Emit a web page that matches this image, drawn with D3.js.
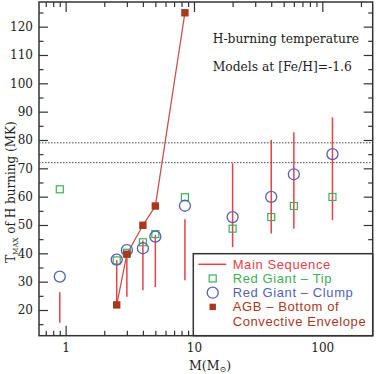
<!DOCTYPE html>
<html>
<head>
<meta charset="utf-8">
<script src="https://cdn.jsdelivr.net/npm/d3@7"></script>
<style>
	body { margin: 0; background: #fff; }
	svg { display: block; }
</style>
</head>
<body>
<svg id="svg_main" width="376" height="374"></svg>
<script>
// masses (M_sun) for each model
var masses = [0.9, 2.5, 3, 4, 5, 8.5, 20, 40, 60, 120];

// main sequence: range of T_max (low, high)
var msLow  = [15.5, 21.8, 24.7, 27, 28.1, 30.5, 42.2, 47, 48.7, 51.7];
var msHigh = [26.3, 37.6, 40, 44.5, 46.5, 52, 71.8, 80, 82.7, 88];

// red giant tip, red giant clump
var rgTip   = [62.6, 37.5, 40.2, 43.9, 46.8, 59.8, 48.7, 52.8, 56.7, 59.9];
var rgClump = [31.8, 37.8, 41.1, 41.8, 45.9, 56.8, 52.8, 59.9, 67.9, 75];

// AGB bottom of convective envelope (only intermediate masses)
var agbMass = [2.5, 3, 4, 5, 8.5];
var agbT    = [21.8, 39.7, 49.9, 56.7, 124.9];

var refLines = [79, 72];

var yTicks = [20, 30, 40, 50, 60, 70, 80, 90, 100, 110, 120];
var xTicks = [1, 10, 100];

var colMS = "#e8414b", colTip = "#3fae5a", colClump = "#5561b6", colAGB = "#a8391f";

var margin = { left: 39, top: 2, right: 3.3, bottom: 38.3 };
var svg = d3.select("#svg_main");
var width = 376 - margin.left - margin.right,
	height = 374 - margin.top - margin.bottom;

var g = svg.append("g")
	.attr("transform", `translate(${margin.left}, ${margin.top})`);

var x = d3.scaleLog().domain([0.62, 247]).range([0, width]);
var y = d3.scaleLinear().domain([10.93, 128.7]).range([height, 0]);

var minorX = [];
[0.1, 1, 10, 100].forEach(dec => {
	for (let k = 2; k <= 9; k++) {
		let v = k * dec;
		if (v >= 0.62 && v <= 247) minorX.push(v);
	}
});
var minorY = d3.range(15, 128, 10);

// axes: ticks drawn inward on all four sides
function frameAxis(axis, tr) {
	let a = g.append("g").attr("transform", tr).call(axis);
	a.select(".domain").remove();
	a.selectAll("line").attr("stroke", "#333").attr("stroke-width", 1.2);
	return a;
}
frameAxis(d3.axisBottom(x).tickValues(xTicks).tickSize(-10).tickFormat(d3.format("d")).tickPadding(8), `translate(0, ${height})`);
frameAxis(d3.axisBottom(x).tickValues(minorX).tickSize(-5).tickFormat(""), `translate(0, ${height})`);
frameAxis(d3.axisTop(x).tickValues(xTicks).tickSize(-10).tickFormat(""), "translate(0, 0)");
frameAxis(d3.axisTop(x).tickValues(minorX).tickSize(-5).tickFormat(""), "translate(0, 0)");
frameAxis(d3.axisLeft(y).tickValues(yTicks).tickSize(-9).tickPadding(6), "translate(0, 0)");
frameAxis(d3.axisLeft(y).tickValues(minorY).tickSize(-4.5).tickFormat(""), "translate(0, 0)");
frameAxis(d3.axisRight(y).tickValues(yTicks).tickSize(-9).tickFormat(""), `translate(${width}, 0)`);
frameAxis(d3.axisRight(y).tickValues(minorY).tickSize(-4.5).tickFormat(""), `translate(${width}, 0)`);

g.selectAll(".tick text")
	.attr("font-family", "DejaVu Serif")
	.attr("font-size", "12px")
	.attr("fill", "#222");

g.append("rect")
	.attr("width", width)
	.attr("height", height)
	.attr("fill", "none")
	.attr("stroke", "#333")
	.attr("stroke-width", 1.5);

// dotted reference lines
g.selectAll(".ref")
	.data(refLines)
	.enter().append("line")
	.attr("x1", 0).attr("x2", width)
	.attr("y1", d => y(d)).attr("y2", d => y(d))
	.attr("stroke", "#444")
	.attr("stroke-width", 1)
	.attr("stroke-dasharray", "1.5,1.5");

// main sequence ranges
g.selectAll(".ms")
	.data(masses)
	.enter().append("line")
	.attr("x1", d => x(d)).attr("x2", d => x(d))
	.attr("y1", (d, i) => y(msLow[i]))
	.attr("y2", (d, i) => y(msHigh[i]))
	.attr("stroke", colMS)
	.attr("stroke-width", 1.5);

// AGB connecting line
g.append("path")
	.datum(agbMass.map((m, i) => [m, agbT[i]]))
	.attr("d", d3.line().x(d => x(d[0])).y(d => y(d[1])))
	.attr("fill", "none")
	.attr("stroke", "#c8524a")
	.attr("stroke-width", 1.3);

g.selectAll(".tip")
	.data(masses)
	.enter().append("rect")
	.attr("x", d => x(d) - 3.5)
	.attr("y", (d, i) => y(rgTip[i]) - 3.5)
	.attr("width", 7).attr("height", 7)
	.attr("fill", "none")
	.attr("stroke", colTip)
	.attr("stroke-width", 1.2);

g.selectAll(".clump")
	.data(masses)
	.enter().append("circle")
	.attr("cx", d => x(d))
	.attr("cy", (d, i) => y(rgClump[i]))
	.attr("r", 5.5)
	.attr("fill", "none")
	.attr("stroke", colClump)
	.attr("stroke-width", 1.3);

g.selectAll(".agb")
	.data(agbMass)
	.enter().append("rect")
	.attr("x", d => x(d) - 3.7)
	.attr("y", (d, i) => y(agbT[i]) - 3.7)
	.attr("width", 7.4).attr("height", 7.4)
	.attr("fill", colAGB);

// legend, anchored to the lower-right corner of the frame
var lx = 154.3, ly = 251.7;
var legend = g.append("g").attr("class", "legend");
legend.append("rect")
	.attr("x", lx).attr("y", ly)
	.attr("width", width - lx).attr("height", height - ly)
	.attr("fill", "#fff")
	.attr("stroke", "#333")
	.attr("stroke-width", 1.5);

var legendItems = [
	{ label: "Main Sequence", color: colMS, kind: "line" },
	{ label: "Red Giant \u2013 Tip", color: colTip, kind: "square" },
	{ label: "Red Giant \u2013 Clump", color: colClump, kind: "circle" },
	{ label: "AGB \u2013 Bottom of", color: colAGB, kind: "filled" },
	{ label: "Convective Envelope", color: colAGB, kind: "none" }
];
var sx = lx + 19.4, tx = lx + 39.4;
legendItems.forEach((d, i) => {
	let cy = ly + 10.6 + i * 14.2;
	if (d.kind == "line")
		legend.append("line").attr("x1", lx + 5).attr("x2", lx + 33)
			.attr("y1", cy).attr("y2", cy)
			.attr("stroke", d.color).attr("stroke-width", 1.5);
	if (d.kind == "square")
		legend.append("rect").attr("x", sx - 3.5).attr("y", cy - 3.5)
			.attr("width", 7).attr("height", 7)
			.attr("fill", "none").attr("stroke", d.color).attr("stroke-width", 1.2);
	if (d.kind == "circle")
		legend.append("circle").attr("cx", sx).attr("cy", cy).attr("r", 5.5)
			.attr("fill", "none").attr("stroke", d.color).attr("stroke-width", 1.3);
	if (d.kind == "filled")
		legend.append("rect").attr("x", sx - 3.2).attr("y", cy - 3.2)
			.attr("width", 6.4).attr("height", 6.4)
			.attr("fill", d.color);
	legend.append("text")
		.attr("x", tx).attr("y", cy + 4.5)
		.attr("font-family", "Liberation Sans")
		.attr("font-size", "13px")
		.attr("letter-spacing", "0.6px")
		.attr("fill", d.color)
		.text(d.label);
});

// annotation
var note = g.append("g").attr("font-family", "DejaVu Serif").attr("font-size", "12.3px").attr("fill", "#222");
note.append("text").attr("x", 173.7).attr("y", 40.5).text("H-burning temperature");
note.append("text").attr("x", 173.7).attr("y", 69).text("Models at [Fe/H]=-1.6");

// axis titles
var xt = svg.append("text")
	.attr("x", 189).attr("y", 370)
	.attr("font-family", "DejaVu Serif")
	.attr("font-size", "12.5px")
	.attr("fill", "#222");
xt.append("tspan").text("M(M");
xt.append("tspan").attr("font-size", "8px").attr("dy", 1.5).text("\u2299");
xt.append("tspan").attr("dy", -1.5).text(")");

var yt = svg.append("text")
	.attr("transform", "rotate(-90)")
	.attr("x", -192).attr("y", 15)
	.attr("text-anchor", "middle")
	.attr("font-family", "DejaVu Serif")
	.attr("font-size", "12px")
	.attr("fill", "#222");
yt.append("tspan").text("T");
yt.append("tspan").attr("font-size", "7px").attr("dy", 3).text("MAX");
yt.append("tspan").attr("dy", -3).text(" of H burning (MK)");
</script>
</body>
</html>
